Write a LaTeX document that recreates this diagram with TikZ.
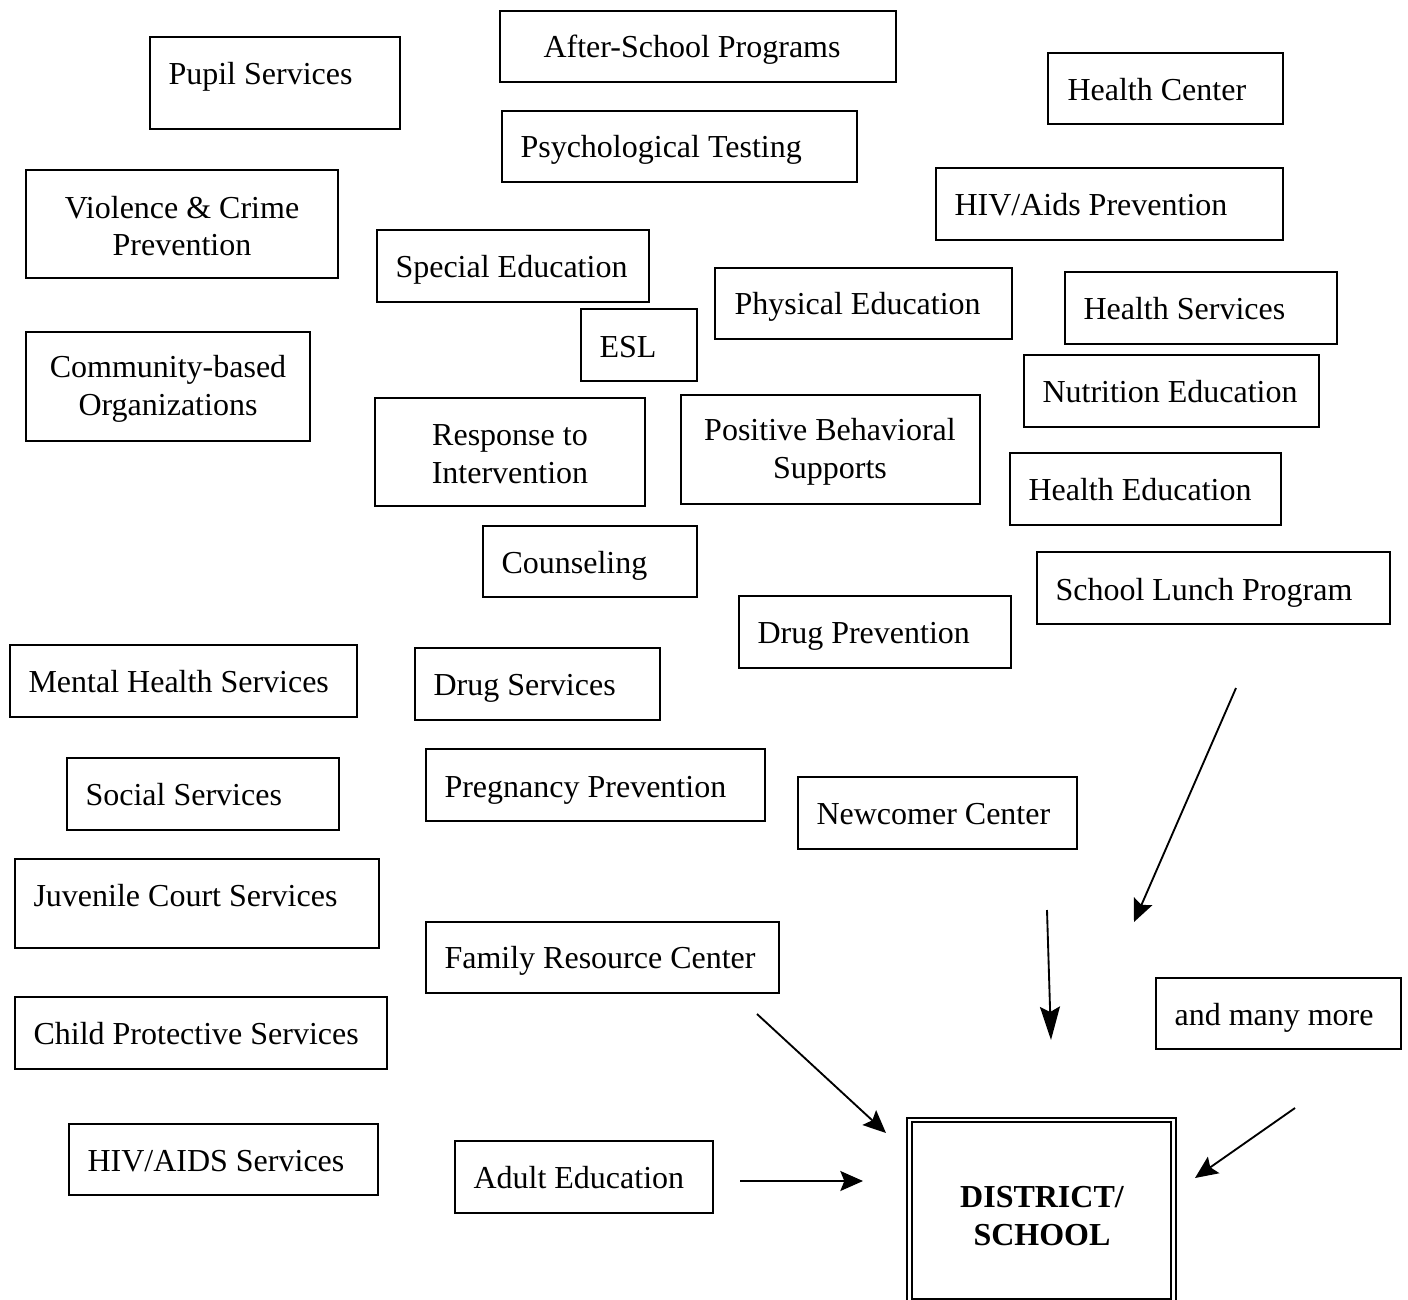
\documentclass[tikz,border=0pt]{standalone}
\usepackage{fontspec}
\setmainfont{Liberation Serif}
\usetikzlibrary{arrows.meta,fit}

\tikzset{
	box/.style={draw, line width=1.1pt, inner sep=0pt},
	txt/.style={anchor=base west, inner sep=0pt},
	txt2/.style={align=center, inner sep=0pt},
	arr/.style={line width=0.7pt, -{Stealth[length=8.5pt,width=7.5pt,inset=1.5pt]}}
}

\begin{document}
\begin{tikzpicture}[x=0.375pt,y=-0.375pt,font=\fontsize{12}{14.2}\selectfont]
	\useasboundingbox (0,0) rectangle (1408,1300);

	% left column
	\node[box, fit={(150,37) (400,129)}] (pupil) {};
	\node[txt] (pupil-t) at (168,84) {Pupil Services};
	\node[box, fit={(26,170) (338,278)}] (violence) {};
	\node[txt2] (violence-t) at (182,226) {Violence \& Crime\\Prevention};
	\node[box, fit={(26,332) (310,441)}] (cbo) {};
	\node[txt2] (cbo-t) at (168,389) {Community-based\\Organizations};
	\node[box, fit={(10,645) (357,717)}] (mental) {};
	\node[txt] (mental-t) at (28,692) {Mental Health Services};
	\node[box, fit={(67,758) (339,830)}] (social) {};
	\node[txt] (social-t) at (85,805) {Social Services};
	\node[box, fit={(15,859) (379,948)}] (juvenile) {};
	\node[txt] (juvenile-t) at (33,906) {Juvenile Court Services};
	\node[box, fit={(15,997) (387,1069)}] (cps) {};
	\node[txt] (cps-t) at (33,1044) {Child Protective Services};
	\node[box, fit={(69,1124) (378,1195)}] (hivsvc) {};
	\node[txt] (hivsvc-t) at (87,1171) {HIV/AIDS Services};

	% middle
	\node[box, fit={(500,11) (896,82)}] (after) {};
	\node[txt] (after-t) at (543,57) {After-School Programs};
	\node[box, fit={(502,111) (857,182)}] (psych) {};
	\node[txt] (psych-t) at (520,157) {Psychological Testing};
	\node[box, fit={(377,230) (649,302)}] (spec) {};
	\node[txt] (spec-t) at (395,277) {Special Education};
	\node[box, fit={(581,309) (697,381)}] (esl) {};
	\node[txt] (esl-t) at (599,357) {ESL};
	\node[box, fit={(715,268) (1012,339)}] (phys) {};
	\node[txt] (phys-t) at (734,314) {Physical Education};
	\node[box, fit={(375,398) (645,506)}] (rti) {};
	\node[txt2] (rti-t) at (510,454) {Response to\\Intervention};
	\node[box, fit={(681,395) (980,504)}] (pbs) {};
	\node[txt2] (pbs-t) at (830,452) {Positive Behavioral\\Supports};
	\node[box, fit={(483,526) (697,597)}] (counsel) {};
	\node[txt] (counsel-t) at (501,573) {Counseling};
	\node[box, fit={(739,596) (1011,668)}] (drugprev) {};
	\node[txt] (drugprev-t) at (757,643) {Drug Prevention};
	\node[box, fit={(415,648) (660,720)}] (drugsvc) {};
	\node[txt] (drugsvc-t) at (433,695) {Drug Services};
	\node[box, fit={(426,749) (765,821)}] (pregnancy) {};
	\node[txt] (pregnancy-t) at (444,797) {Pregnancy Prevention};
	\node[box, fit={(798,777) (1077,849)}] (newcomer) {};
	\node[txt] (newcomer-t) at (816,824) {Newcomer Center};
	\node[box, fit={(426,922) (779,993)}] (family) {};
	\node[txt] (family-t) at (444,968) {Family Resource Center};
	\node[box, fit={(455,1141) (713,1213)}] (adult) {};
	\node[txt] (adult-t) at (473,1188) {Adult Education};

	% right column
	\node[box, fit={(1048,53) (1283,124)}] (healthctr) {};
	\node[txt] (healthctr-t) at (1067,100) {Health Center};
	\node[box, fit={(936,168) (1283,240)}] (hivprev) {};
	\node[txt] (hivprev-t) at (954,215) {HIV/Aids Prevention};
	\node[box, fit={(1065,272) (1337,344)}] (healthsvc) {};
	\node[txt] (healthsvc-t) at (1083,319) {Health Services};
	\node[box, fit={(1024,355) (1319,427)}] (nutrition) {};
	\node[txt] (nutrition-t) at (1042,402) {Nutrition Education};
	\node[box, fit={(1010,453) (1281,525)}] (healthed) {};
	\node[txt] (healthed-t) at (1028,500) {Health Education};
	\node[box, fit={(1037,552) (1390,624)}] (lunch) {};
	\node[txt] (lunch-t) at (1055,600) {School Lunch Program};
	\node[box, fit={(1156,978) (1401,1049)}] (more) {};
	\node[txt] (more-t) at (1174,1025) {and many more};

	% district / school
	\node[draw, line width=0.75pt, double, double distance=1.1pt, inner sep=0pt,
		fit={(909.5,1120) (1173.5,1301)}] (district) {};
	\node[txt2, font=\fontsize{12}{14.2}\selectfont\bfseries] (district-t) at (1042,1216) {DISTRICT/\\SCHOOL};

	% arrows
	\coordinate (lunch-a) at (1236,688);
	\coordinate (lunch-b) at (1134,922);
	\coordinate (newcomer-a) at (1047,910);
	\coordinate (newcomer-b) at (1051,1040);
	\coordinate (family-a) at (757,1014);
	\coordinate (family-b) at (886,1133);
	\coordinate (adult-a) at (740,1181);
	\coordinate (adult-b) at (863,1181);
	\coordinate (more-a) at (1295,1108);
	\coordinate (more-b) at (1195,1178);
	\draw[arr] (lunch-a) -- (lunch-b);
	\draw[arr, -{Stealth[length=12.5pt,width=7.5pt,inset=2pt]}] (newcomer-a) -- (newcomer-b);
	\draw[arr] (family-a) -- (family-b);
	\draw[arr] (adult-a) -- (adult-b);
	\draw[arr] (more-a) -- (more-b);
\end{tikzpicture}
\end{document}
